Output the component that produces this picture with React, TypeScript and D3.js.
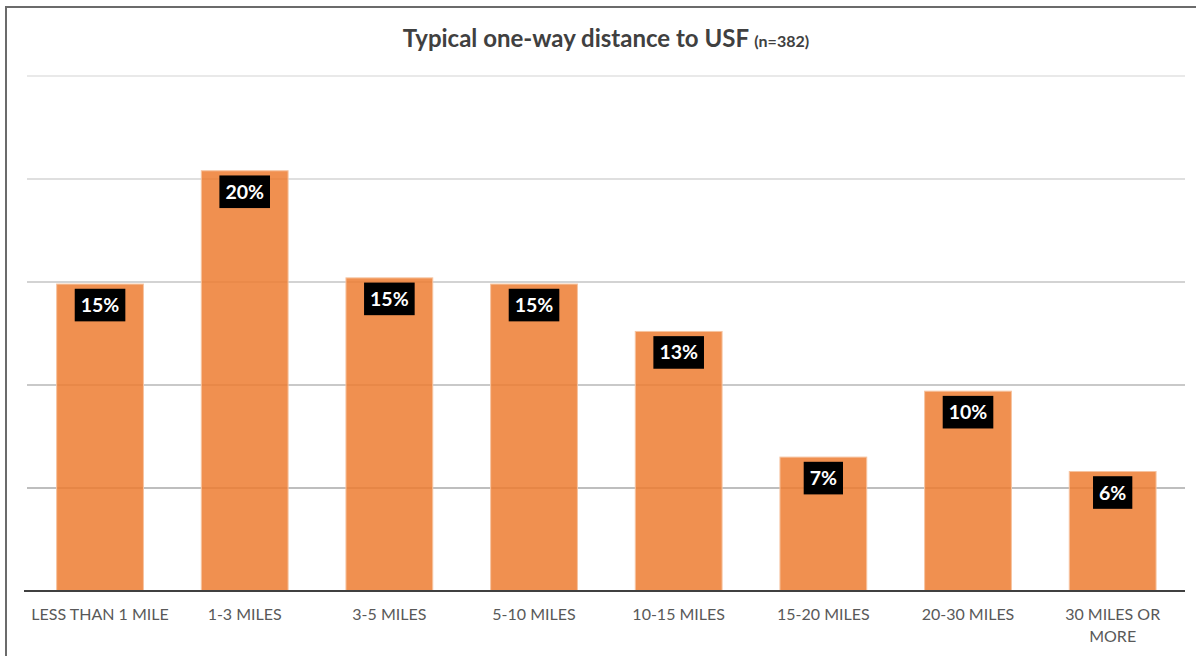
import React, { useEffect, useRef } from "react";
import * as d3 from "d3";

// Share of respondents (%) by typical one-way commute distance
const categories: string[][] = [
  ["LESS THAN 1 MILE"],
  ["1-3 MILES"],
  ["3-5 MILES"],
  ["5-10 MILES"],
  ["10-15 MILES"],
  ["15-20 MILES"],
  ["20-30 MILES"],
  ["30 MILES OR", "MORE"],
];
const shares: number[] = [14.9, 20.4, 15.2, 14.9, 12.6, 6.5, 9.7, 5.8];
const gridValues: number[] = [5, 10, 15, 20, 25];

const W = 1196;
const H = 656;
const FONT = "Lato, 'Open Sans', sans-serif";

export default function App() {
  const ref = useRef<SVGSVGElement | null>(null);

  useEffect(() => {
    const svg = d3.select(ref.current);
    svg.selectAll("*").remove();

    const x = d3
      .scaleBand<number>()
      .domain(d3.range(categories.length))
      .range([27.7, 1185])
      .paddingInner(0.4)
      .paddingOuter(0.2);
    const y = d3.scaleLinear().domain([0, 25]).range([591, 76]);
    const gridShade = d3
      .scaleLinear<string>()
      .domain([5, 25])
      .range(["#a8a8a8", "#e2e2e2"]);

    svg.append("rect").attr("width", W).attr("height", H).attr("fill", "#fff");

    // frame (top and left edges)
    svg
      .append("path")
      .attr("d", `M6,${H} L6,7 L${W},7`)
      .attr("fill", "none")
      .attr("stroke", "#6b6b6b")
      .attr("stroke-width", 2);

    // title
    const title = svg
      .append("text")
      .attr("x", 606)
      .attr("y", 47)
      .attr("text-anchor", "middle")
      .attr("font-family", FONT)
      .attr("font-weight", 700)
      .attr("fill", "#404040");
    title.append("tspan").attr("font-size", 24).text("Typical one-way distance to USF ");
    title.append("tspan").attr("font-size", 16).text("(n=382)");

    // gridlines
    svg
      .append("g")
      .selectAll("line")
      .data(gridValues)
      .join("line")
      .attr("x1", 27)
      .attr("x2", 1185)
      .attr("y1", (d) => y(d))
      .attr("y2", (d) => y(d))
      .attr("stroke", (d) => gridShade(d))
      .attr("stroke-width", 1.5);

    // bars
    svg
      .append("g")
      .selectAll("rect")
      .data(shares)
      .join("rect")
      .attr("x", (_, i) => x(i)!)
      .attr("y", (d) => y(d))
      .attr("width", x.bandwidth())
      .attr("height", (d) => y(0) - y(d))
      .attr("fill", "#ED7D31")
      .attr("fill-opacity", 0.85)
      .attr("stroke", "#f6c4a1")
      .attr("stroke-width", 1);

    // baseline
    svg
      .append("line")
      .attr("x1", 24)
      .attr("x2", 1185)
      .attr("y1", y(0))
      .attr("y2", y(0))
      .attr("stroke", "#404040")
      .attr("stroke-width", 2);

    // value labels in black boxes
    const lab = svg
      .append("g")
      .selectAll("g")
      .data(shares)
      .join("g")
      .attr("transform", (d, i) => `translate(${x(i)! + x.bandwidth() / 2},${y(d) + 21})`);
    const boxes = lab.append("rect").attr("fill", "#000");
    const texts = lab
      .append("text")
      .attr("text-anchor", "middle")
      .attr("dy", "0.36em")
      .attr("font-family", FONT)
      .attr("font-weight", 700)
      .attr("font-size", 19.5)
      .attr("fill", "#fff")
      .text((d) => `${Math.round(d)}%`);
    texts.each(function (_, i) {
      const w = (this as SVGTextElement).getComputedTextLength();
      d3.select(boxes.nodes()[i])
        .attr("x", -w / 2 - 6)
        .attr("y", -16.3)
        .attr("width", w + 12)
        .attr("height", 32.6);
    });

    // category labels
    const cat = svg
      .append("g")
      .selectAll("text")
      .data(categories)
      .join("text")
      .attr("x", (_, i) => x(i)! + x.bandwidth() / 2)
      .attr("y", 620)
      .attr("text-anchor", "middle")
      .attr("font-family", FONT)
      .attr("font-size", 16)
      .attr("fill", "#595959");
    cat
      .selectAll("tspan")
      .data((d) => d)
      .join("tspan")
      .attr("x", function () {
        return (this.parentNode as SVGTextElement).getAttribute("x");
      })
      .attr("dy", (_, j) => (j === 0 ? 0 : 22))
      .text((d) => d);
  }, []);

  return (
    <svg
      ref={ref}
      width={W}
      height={H}
      style={{ position: "absolute", left: 0, top: 0, display: "block" }}
    />
  );
}
